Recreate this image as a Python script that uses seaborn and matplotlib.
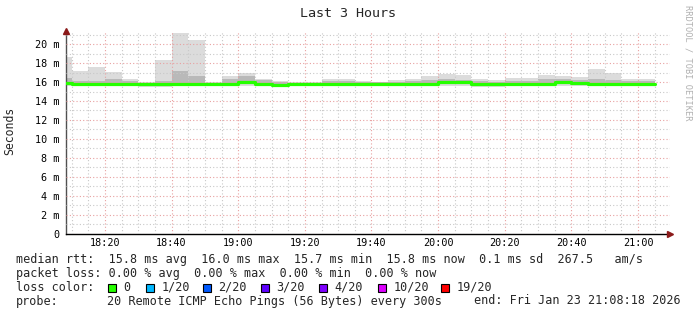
import matplotlib
matplotlib.use("Agg")
import matplotlib.pyplot as plt
import numpy as np
import pandas as pd
import seaborn as sns

# ---------------- data ----------------
interval_start = ["18:05", "18:10", "18:15", "18:20", "18:25", "18:30", "18:35", "18:40", "18:45",
                  "18:50", "18:55", "19:00", "19:05", "19:10", "19:15", "19:20", "19:25", "19:30",
                  "19:35", "19:40", "19:45", "19:50", "19:55", "20:00", "20:05", "20:10", "20:15",
                  "20:20", "20:25", "20:30", "20:35", "20:40", "20:45", "20:50", "20:55", "21:00"]
interval_end = "21:05"

rtt_max_ms = [18.6, 17.2, 17.6, 17.1, 16.33, 16.0, 18.34, 21.2, 20.45,
              16.0, 16.65, 16.97, 16.33, 16.1, 16.0, 16.0, 16.33, 16.33,
              16.1, 16.05, 16.2, 16.3, 16.65, 16.86, 16.75, 16.33, 16.2,
              16.44, 16.44, 16.75, 16.65, 16.54, 17.39, 16.97, 16.33, 16.33]
rtt_upper_ms = [16.4, 16.1, 16.1, 16.3, 16.1, 15.95, 16.1, 17.2, 16.65,
                15.95, 16.3, 16.6, 16.2, 16.0, 15.95, 15.95, 16.1, 16.1,
                16.0, 16.0, 16.05, 16.1, 16.2, 16.3, 16.2, 16.1, 16.0,
                16.15, 16.1, 16.35, 16.3, 16.25, 16.3, 16.2, 16.1, 16.1]
rtt_median_ms = [15.9, 15.75, 15.75, 15.75, 15.8, 15.8, 15.8, 15.8, 15.8,
                 15.8, 15.8, 16.0, 15.8, 15.7, 15.8, 15.8, 15.8, 15.8,
                 15.75, 15.8, 15.8, 15.8, 15.8, 16.0, 16.0, 15.75, 15.75,
                 15.8, 15.8, 15.85, 16.0, 15.9, 15.85, 15.85, 15.8, 15.8]
rtt_lower_ms = [15.75, 15.65, 15.65, 15.65, 15.7, 15.65, 15.6, 15.65, 15.7,
                15.7, 15.7, 15.8, 15.7, 15.6, 15.7, 15.7, 15.7, 15.7,
                15.65, 15.7, 15.7, 15.7, 15.7, 15.85, 15.85, 15.6, 15.65,
                15.7, 15.7, 15.75, 15.85, 15.75, 15.75, 15.75, 15.7, 15.7]
rtt_min_ms = [15.6, 15.6, 15.6, 15.6, 15.6, 15.45, 15.45, 15.6, 15.6,
              15.6, 15.6, 15.55, 15.6, 15.55, 15.6, 15.6, 15.6, 15.6,
              15.6, 15.6, 15.6, 15.6, 15.6, 15.6, 15.6, 15.45, 15.5,
              15.6, 15.6, 15.6, 15.6, 15.6, 15.6, 15.6, 15.6, 15.6]

x_tick_times = ["18:20", "18:40", "19:00", "19:20", "19:40", "20:00", "20:20", "20:40", "21:00"]
y_tick_values_ms = [0, 2, 4, 6, 8, 10, 12, 14, 16, 18, 20]
y_tick_labels = ["0", "2 m", "4 m", "6 m", "8 m", "10 m", "12 m", "14 m", "16 m", "18 m", "20 m"]
view_start, view_end = "18:08:18", "21:09:36"

title = "Last 3 Hours"
legend_lines = [
    "median rtt:  15.8 ms avg  16.0 ms max  15.7 ms min  15.8 ms now  0.1 ms sd  267.5   am/s",
    "packet loss: 0.00 % avg  0.00 % max  0.00 % min  0.00 % now",
]
loss_labels = ["0", "1/20", "2/20", "3/20", "4/20", "10/20", "19/20"]
loss_colors = ["#26ff00", "#00b8ff", "#0059ff", "#5e00ff", "#7e00ff", "#dd00ff", "#ff0000"]
probe_text = "20 Remote ICMP Echo Pings (56 Bytes) every 300s"
end_text = "end: Fri Jan 23 21:08:18 2026"


def to_min(s):
    parts = [int(p) for p in s.split(":")]
    return parts[0] * 60 + parts[1] + (parts[2] / 60 if len(parts) > 2 else 0)


# ---------------- build frame ----------------
edges = [to_min(t) for t in interval_start] + [to_min(interval_end)]
def ext(a):
    return np.array(list(a) + [a[-1]]) / 1000.0

df = pd.DataFrame({
    "t": edges,
    "max": ext(rtt_max_ms),
    "upper": ext(rtt_upper_ms),
    "median": ext(rtt_median_ms),
    "lower": ext(rtt_lower_ms),
    "min": ext(rtt_min_ms),
})

sns.set_style("white")
mono = "DejaVu Sans Mono"
plt.rcParams["font.family"] = [mono, "DejaVu Sans"]

W, H = 697, 315
fig = plt.figure(figsize=(W / 100, H / 100), dpi=100)
fig.patch.set_facecolor("white")
ax_l, ax_r, ax_t, ax_b = 66, 670, 31, 233.5
ax = fig.add_axes([ax_l / W, (H - ax_b) / H, (ax_r - ax_l) / W, (ax_b - ax_t) / H])
ax.set_facecolor("white")

# smoke
ax.fill_between(df["t"], df["min"], df["max"], step="post", color="#dcdcdc", lw=0, zorder=1)
ax.fill_between(df["t"], df["lower"], df["upper"], step="post", color="#b9b9b9", lw=0, zorder=1.1)
# median
sns.lineplot(data=df, x="t", y="median", ax=ax, drawstyle="steps-post",
             color=loss_colors[0], lw=2.3, zorder=3, estimator=None)

ax.set_xlim(to_min(view_start), to_min(view_end))
ax.set_ylim(0, 0.0214)

# grid
xmaj = [to_min(t) for t in x_tick_times]
ax.set_xticks(xmaj)
ax.set_xticklabels(x_tick_times)
ax.set_xticks(np.arange(1090, 1270, 5), minor=True)
ax.set_yticks([v / 1000 for v in y_tick_values_ms])
ax.set_yticklabels(y_tick_labels)
ax.set_yticks(np.arange(0.001, 0.0214, 0.002), minor=True)
ax.grid(which="minor", color="#c8c8c8", ls=(0, (1, 2)), lw=0.8, zorder=2)
ax.grid(which="major", color="#e8a0a0", ls=(0, (1, 2)), lw=0.8, zorder=2)
ax.set_axisbelow(False)

ax.tick_params(axis="both", which="major", labelsize=7.3, length=2.5, width=0.8, pad=2,
               color="#404040", labelcolor="black")
ax.tick_params(axis="x", which="major", pad=0.8)
ax.tick_params(axis="both", which="minor", length=0)
for lab in ax.get_xticklabels() + ax.get_yticklabels():
    lab.set_fontfamily(mono)

for s in ["top", "right"]:
    ax.spines[s].set_visible(False)
ax.spines["left"].set_color("#505050")
ax.spines["left"].set_linewidth(1.0)
ax.spines["bottom"].set_color("black")
ax.spines["bottom"].set_linewidth(1.0)
ax.set_xlabel("")
ax.set_ylabel("")

# axis arrows
ax.plot([1.0], [0.0], marker=">", color="#8b1a1a", markersize=5, transform=ax.transAxes, clip_on=False, zorder=5)
ax.plot([0.0], [1.0], marker="^", color="#8b1a1a", markersize=5, transform=ax.transAxes, clip_on=False, zorder=5)

# texts
fig.text(347.5 / W, 1 - 13.5 / H, title, ha="center", va="center", fontsize=9.6, family=mono)
fig.text(10 / W, 1 - 131 / H, "Seconds", ha="center", va="center", rotation=90, fontsize=8.3, family=mono)
fig.text(688 / W, 1 - 5 / H, "RRDTOOL / TOBI OETIKER", ha="center", va="top", rotation=270,
         fontsize=6.2, family=mono, color="#b0b0b0")

fs = 8.5
ys = [260, 273.5, 287.5, 301]
fig.text(16 / W, 1 - ys[0] / H, legend_lines[0], ha="left", va="center", fontsize=fs, family=mono)
fig.text(16 / W, 1 - ys[1] / H, legend_lines[1], ha="left", va="center", fontsize=fs, family=mono)
fig.text(16 / W, 1 - ys[2] / H, "loss color:", ha="left", va="center", fontsize=fs, family=mono)
sq_x = [108, 146, 203, 261, 319, 378, 441]
for lx, lab, col in zip(sq_x, loss_labels, loss_colors):
    fig.patches.append(matplotlib.patches.Rectangle(
        (lx / W, 1 - (ys[2] + 4.5) / H), 8 / W, 8.5 / H, transform=fig.transFigure,
        facecolor=col, edgecolor="black", lw=0.8))
    fig.text((lx + 15.5) / W, 1 - ys[2] / H, lab, ha="left", va="center", fontsize=fs, family=mono)
fig.text(16 / W, 1 - ys[3] / H, "probe:", ha="left", va="center", fontsize=fs, family=mono)
fig.text(107 / W, 1 - ys[3] / H, probe_text, ha="left", va="center", fontsize=fs, family=mono)
fig.text(681 / W, 1 - ys[3] / H, end_text, ha="right", va="center", fontsize=fs, family=mono)

fig.savefig("out.png", dpi=100, facecolor="white")
